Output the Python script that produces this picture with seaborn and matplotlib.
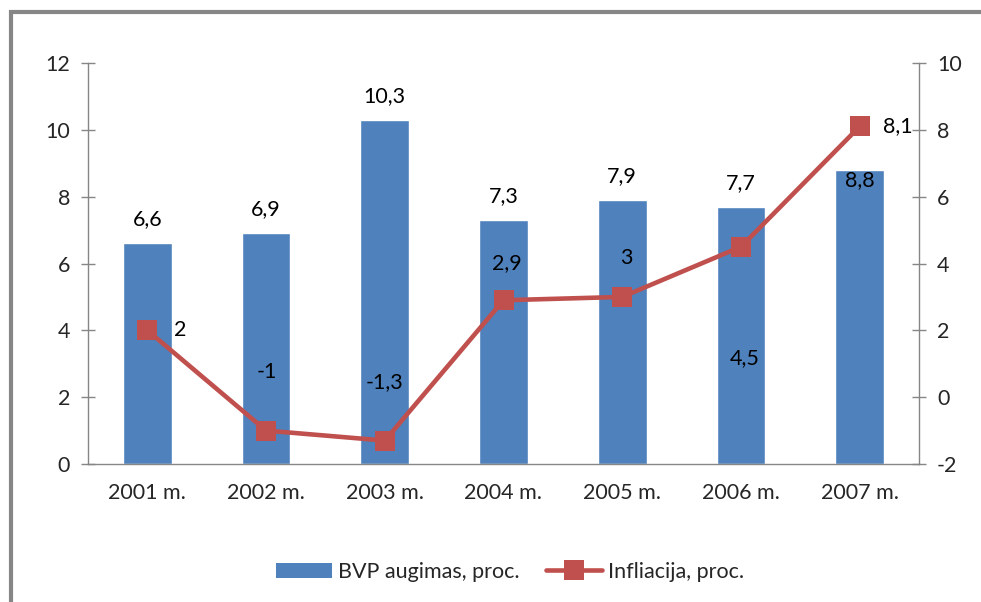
import numpy as np
import pandas as pd
import matplotlib
matplotlib.use("Agg")
import matplotlib.pyplot as plt
from matplotlib.patches import Rectangle
from matplotlib.lines import Line2D
from matplotlib.patches import Patch
import seaborn as sns

# duomenys
years = ["2001 m.", "2002 m.", "2003 m.", "2004 m.", "2005 m.", "2006 m.", "2007 m."]
bvp = [6.6, 6.9, 10.3, 7.3, 7.9, 7.7, 8.8]
infl = [2, -1, -1.3, 2.9, 3, 4.5, 8.1]
bvp_labels = ["6,6", "6,9", "10,3", "7,3", "7,9", "7,7", "8,8"]
infl_labels = ["2", "-1", "-1,3", "2,9", "3", "4,5", "8,1"]

# label offsets in pixels
bvp_off = [24, 24, 24, 24, 24, 24, -10]
infl_off = [(33, 0), (1, 59), (0, 59), (3, 37), (4, 39), (4, -111), (38, 0)]

sns.set_style("white")
plt.rcParams["font.family"] = ["Lato", "DejaVu Sans"]
plt.rcParams["axes.unicode_minus"] = False

blue = "#4F81BD"
red = "#C0504D"
gray = "#868686"
fs = 15.5

df = pd.DataFrame({"year": years, "bvp": bvp, "infl": infl})

fig = plt.figure(figsize=(9.81, 6.02), dpi=100)
ax = fig.add_axes([88 / 981, 1 - 464 / 602, (919 - 88) / 981, (464 - 63) / 602])

sns.barplot(data=df, x="year", y="bvp", color=blue, width=0.41, ax=ax, saturation=1)
ax.set_xlim(-0.5, 6.5)
ax.set_ylim(0, 12)
ax.set_yticks(range(0, 13, 2))
ax.set_xlabel("")
ax.set_ylabel("")

ax2 = ax.twinx()
sns.lineplot(x=np.arange(7), y=df["infl"], ax=ax2, color=red, linewidth=3.3,
             marker="s", markersize=14, markeredgewidth=0)
ax2.set_ylim(-2, 10)
ax2.set_yticks(range(-2, 11, 2))
ax2.set_ylabel("")
ax2.set_xlim(-0.5, 6.5)

for a in (ax, ax2):
    for s in a.spines.values():
        s.set_color(gray)
        s.set_linewidth(1)
    a.spines["top"].set_visible(False)
    a.tick_params(axis="y", direction="inout", length=10, color=gray, width=1,
                  labelsize=fs, pad=8)

ax.spines["right"].set_visible(False)
ax2.spines["left"].set_visible(False)
ax2.spines["bottom"].set_visible(False)

ax.tick_params(axis="x", length=0, labelsize=fs, pad=14)
ax.set_xticks(np.arange(-0.5, 7, 1), minor=True)
ax.tick_params(axis="x", which="minor", direction="inout", length=16, color=gray, width=1)

for i, v in enumerate(bvp):
    ax.annotate(bvp_labels[i], (i, v), xytext=(0, bvp_off[i]), textcoords="offset pixels",
                ha="center", va="center", fontsize=fs, color="black")

for i, v in enumerate(infl):
    dx, dy = infl_off[i]
    ax2.annotate(infl_labels[i], (i, v), xytext=(dx, dy), textcoords="offset pixels",
                 ha="center", va="center", fontsize=fs, color="black")

handles = [Patch(facecolor=blue, edgecolor="none"),
           Line2D([0], [0], color=red, linewidth=3.3, marker="s", markersize=14, markeredgewidth=0)]
fig.legend(handles, ["BVP augimas, proc.", "Infliacija, proc."], loc="center",
           bbox_to_anchor=(510 / 981, 1 - 572 / 602), ncol=2, frameon=False, fontsize=fs,
           handlelength=2.6, handletextpad=0.3, columnspacing=1.2)

fig.patches.append(Rectangle((11 / 981, -0.5), 2, 1 - 12 / 602 + 0.5, transform=fig.transFigure,
                             fill=False, edgecolor=gray, linewidth=3))

fig.savefig("out.png", dpi=100)
